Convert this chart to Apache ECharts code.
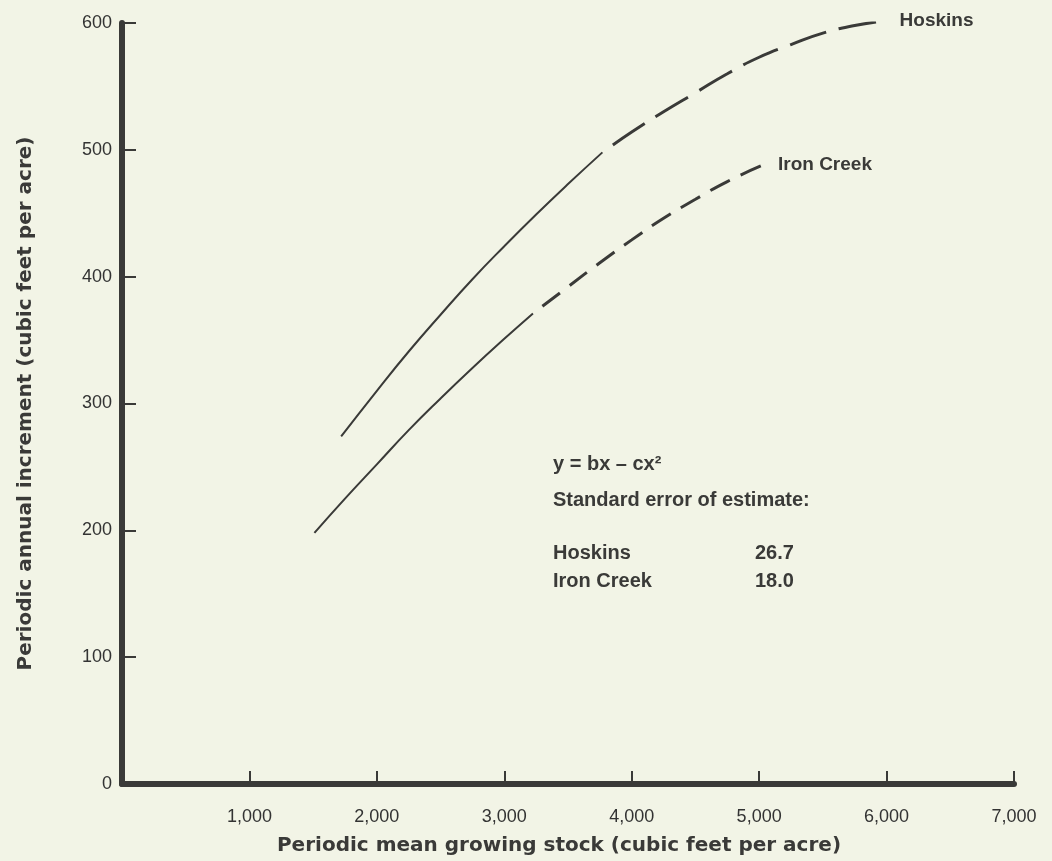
<!DOCTYPE html>
<html>
<head>
<meta charset="utf-8">
<script src="https://cdn.jsdelivr.net/npm/echarts@6/dist/echarts.min.js"></script>
<style>
html,body{margin:0;padding:0;background:#f2f4e6;}
#c{width:1052px;height:861px;}
</style>
</head>
<body>
<div id="c"></div>
<script>
// Data
const xTicks = [0, 1000, 2000, 3000, 4000, 5000, 6000, 7000];
const yTicks = [0, 100, 200, 300, 400, 500, 600];

const hoskinsSolidX = [1720, 2000, 2250, 2500, 2750, 3000, 3250, 3500, 3770];
const hoskinsSolidY = [274, 310, 341, 370, 398, 424, 449, 473, 498];
const hoskinsDashX  = [3770, 4000, 4250, 4500, 4750, 5000, 5250, 5500, 5750, 6000];
const hoskinsDashY  = [498, 514, 530, 545, 560, 573, 583, 592, 598, 602];

const ironSolidX = [1510, 1750, 2000, 2250, 2500, 2750, 3000, 3225];
const ironSolidY = [198, 225, 252, 279, 304, 328, 351, 371];
const ironDashX  = [3225, 3500, 3750, 4000, 4250, 4500, 4750, 5030];
const ironDashY  = [371, 392, 411, 429, 446, 461, 475, 488];

const annotation = ["y = bx \u2013 cx\u00b2", "Standard error of estimate:"];
const errNames = ["Hoskins", "Iron Creek"];
const errValues = ["26.7", "18.0"];

function zip(a, b) { return a.map((v, i) => [v, b[i]]); }

const ink = '#3a3a38';
const chart = echarts.init(document.getElementById('c'));
const txt = { fontFamily: 'Liberation Sans, Arial, sans-serif' };
const bigTxt = { fontFamily: 'DejaVu Sans, sans-serif' };

function note(text, left, top) {
  return { type: 'text', left: left, top: top,
    style: Object.assign({ text: text, fontSize: 20, fontWeight: 'bold', fill: ink }, txt) };
}

chart.setOption({
  backgroundColor: '#f2f4e6',
  animation: false,
  grid: { left: 122, right: 38, top: 23, bottom: 75 },
  xAxis: {
    type: 'value', min: 0, max: 7000, interval: 1000,
    name: 'Periodic mean growing stock (cubic feet per acre)',
    nameLocation: 'middle', nameGap: 52,
    nameTextStyle: Object.assign({ fontSize: 20, fontWeight: 'bold', color: ink, padding: [0, 18, 0, 0] }, bigTxt),
    axisLine: { lineStyle: { color: ink, width: 6 } },
    axisTick: { inside: true, length: 13, lineStyle: { color: ink, width: 2 } },
    axisLabel: Object.assign({
      fontSize: 18, color: '#333', margin: 24,
      formatter: v => v === 0 ? '' : v.toLocaleString('en-US')
    }, txt),
    splitLine: { show: false }
  },
  yAxis: {
    type: 'value', min: 0, max: 600, interval: 100,
    name: 'Periodic annual increment (cubic feet per acre)',
    nameLocation: 'middle', nameGap: 86,
    nameTextStyle: Object.assign({ fontSize: 20, fontWeight: 'bold', color: ink }, bigTxt),
    axisLine: { lineStyle: { color: ink, width: 6 } },
    axisTick: { inside: true, length: 14, lineStyle: { color: ink, width: 2 } },
    axisLabel: Object.assign({ fontSize: 18, color: '#333', margin: 10 }, txt),
    splitLine: { show: false }
  },
  series: [
    { type: 'line', name: 'Hoskins', data: zip(hoskinsSolidX, hoskinsSolidY), smooth: true,
      showSymbol: false, lineStyle: { color: ink, width: 2 } },
    { type: 'line', name: 'Hoskins', data: zip(hoskinsDashX, hoskinsDashY), smooth: true,
      showSymbol: false, lineStyle: { color: ink, width: 3, type: [38, 13], dashOffset: 38 },
      endLabel: Object.assign({ show: true, formatter: '{a}', fontSize: 19, fontWeight: 'bold', color: ink, distance: 13 }, txt) },
    { type: 'line', name: 'Iron Creek', data: zip(ironSolidX, ironSolidY), smooth: true,
      showSymbol: false, lineStyle: { color: ink, width: 2 } },
    { type: 'line', name: 'Iron Creek', data: zip(ironDashX, ironDashY), smooth: true,
      showSymbol: false, lineStyle: { color: ink, width: 3, type: [22, 12], dashOffset: 22 },
      endLabel: Object.assign({ show: true, formatter: '{a}', fontSize: 19, fontWeight: 'bold', color: ink, distance: 15 }, txt) }
  ],
  graphic: [
    note(annotation[0], 553, 454),
    note(annotation[1], 553, 490),
    note(errNames[0], 553, 543),
    note(errValues[0], 755, 543),
    note(errNames[1], 553, 571),
    note(errValues[1], 755, 571)
  ]
});
</script>
</body>
</html>
